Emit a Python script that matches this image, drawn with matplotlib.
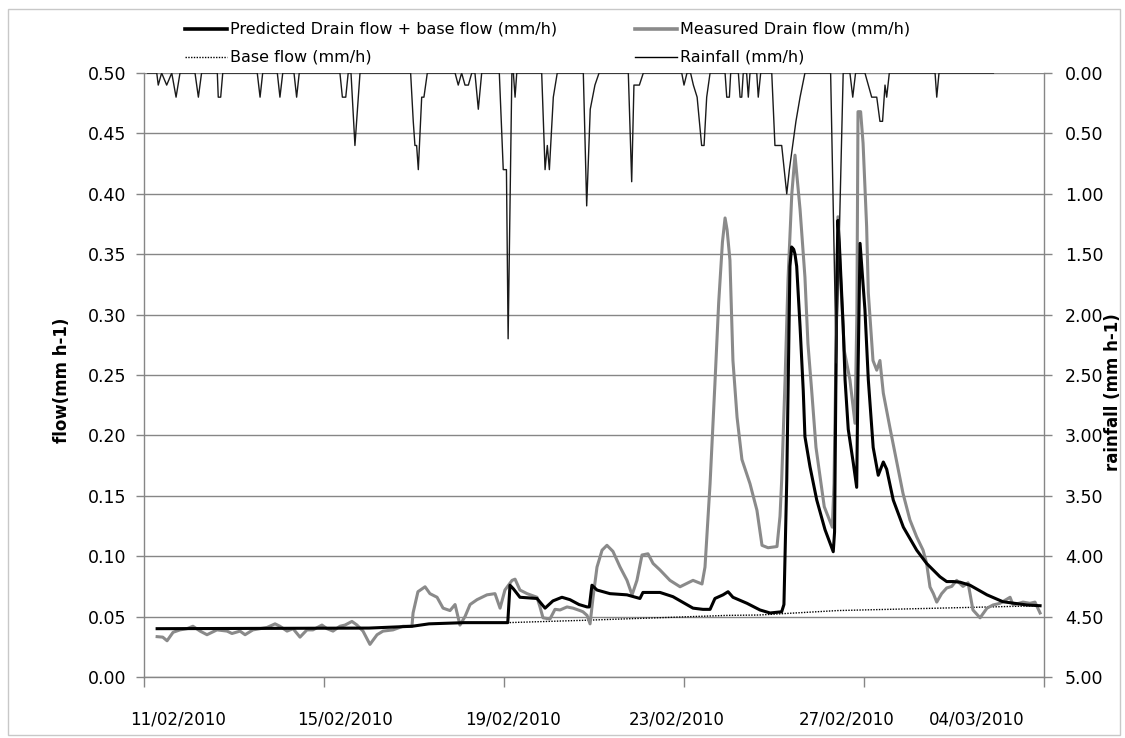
import numpy as np
import matplotlib
matplotlib.use("Agg")
import matplotlib.pyplot as plt
from matplotlib.lines import Line2D
from matplotlib.patches import Rectangle

# Time axis: hours since 11/02/2010 00:00
pred_t = [7, 120, 143, 152, 171, 194, 195.2, 197, 200.5, 209.6, 213.9, 218.1, 222.9, 227.2,
          232, 236.3, 237.5, 238.9, 241.6, 248.5, 257.6, 264.5, 266.1, 275.2, 282.1, 292.8,
          298.1, 301.9, 304.5, 308.8, 311.5, 314.1, 321.6, 328.5, 333.9, 340.1, 341.3, 342.8,
          344.5, 345.4, 346.5, 347.2, 348.1, 349.9, 351.6, 352.5, 355.2, 358.8, 363.2, 367.6,
          368.3, 369.5, 370.1, 370.8, 372.9, 373.9, 375.6, 378.3, 380.1, 380.8, 381.9, 384.5,
          386.3, 388.9, 391.6, 394.3, 396.1, 399.6, 405, 412.1, 417.4, 424.5, 428.1, 431.6,
          435.2, 440.5, 449.6, 458.1, 470.9, 477.9]
pred_v = [0.040, 0.0405, 0.042, 0.044, 0.045, 0.045, 0.076, 0.073, 0.066, 0.065, 0.057, 0.063,
          0.066, 0.064, 0.060, 0.058, 0.058, 0.076, 0.072, 0.069, 0.068, 0.065, 0.070, 0.070,
          0.0665, 0.057, 0.056, 0.056, 0.065, 0.068, 0.0706, 0.066, 0.061, 0.0555, 0.053, 0.054,
          0.060, 0.163, 0.340, 0.356, 0.354, 0.350, 0.340, 0.290, 0.237, 0.199, 0.174, 0.1465,
          0.122, 0.1037, 0.120, 0.330, 0.378, 0.360, 0.290, 0.246, 0.205, 0.177, 0.157, 0.250,
          0.359, 0.304, 0.246, 0.190, 0.167, 0.178, 0.172, 0.1465, 0.124, 0.105, 0.094, 0.083,
          0.079, 0.079, 0.0785, 0.076, 0.068, 0.0623, 0.0596, 0.059]

meas_t = [7, 10, 12.3, 15.5, 19.2, 22.9, 26.1, 29.9, 33.6, 38.9, 44.3, 46.9, 51.2, 53.9, 58.1,
          65.6, 69.9, 72.5, 76.3, 79.5, 83.2, 86.9, 90.1, 94.9, 97.6, 100.8, 104.5, 107.2, 110.9,
          113.6, 116.8, 120.5, 124.3, 127.5, 132.8, 138.1, 142.9, 143.5, 146.1, 149.9, 152.5,
          156.3, 159.5, 163.2, 165.9, 168.5, 171.2, 173.9, 177.6, 182.9, 187.2, 189.9, 192.5,
          196.3, 197.9, 200.5, 204.3, 209.6, 211.2, 212.8, 216.5, 219.2, 221.9, 225.6, 228.8,
          232.5, 234.1, 236.3, 237.9, 239.5, 241.6, 244.3, 246.9, 250.1, 253.9, 257.6, 260.3,
          262.9, 265.6, 268.8, 271.5, 275.2, 280.5, 285.9, 292.8, 297.6, 299.2, 301.9, 304.5,
          306.5, 308.5, 309.9, 311, 312.5, 314.1, 316.3, 318.9, 323.2, 326.9, 329.6, 332.8,
          337.6, 339.2, 340.1, 341.9, 343.5, 345.5, 347.2, 349.9, 352.5, 354.1, 356.1, 358.4,
          362.8, 367.1, 368, 369.6, 370.1, 371.5, 373.5, 376.5, 379.2, 380.2, 380.8, 382.2,
          383.5, 385.4, 386.3, 388.8, 390.8, 392.5, 394.3, 398, 401.6, 404.8, 408.5, 412.1,
          415.5, 417.4, 419.2, 421, 422.8, 425.4, 428.1, 430.8, 433.4, 436.8, 439.5, 442.1,
          445.9, 449.6, 452.8, 456.5, 461.9, 463.5, 468.8, 472.5, 475.2, 477.9]
meas_v = [0.0334, 0.033, 0.030, 0.037, 0.039, 0.040, 0.042, 0.038, 0.035, 0.039, 0.038, 0.036,
          0.038, 0.035, 0.039, 0.041, 0.044, 0.042, 0.038, 0.040, 0.033, 0.039, 0.039, 0.043,
          0.040, 0.038, 0.042, 0.043, 0.046, 0.043, 0.038, 0.027, 0.035, 0.038, 0.039, 0.042,
          0.042, 0.053, 0.0706, 0.0747, 0.069, 0.066, 0.057, 0.055, 0.060, 0.043, 0.050, 0.060,
          0.064, 0.068, 0.069, 0.057, 0.072, 0.080, 0.081, 0.072, 0.069, 0.066, 0.058, 0.049,
          0.048, 0.056, 0.0555, 0.058, 0.057, 0.055, 0.054, 0.051, 0.044, 0.066, 0.091, 0.105,
          0.109, 0.104, 0.091, 0.080, 0.068, 0.080, 0.101, 0.102, 0.094, 0.0886, 0.080, 0.0747,
          0.080, 0.077, 0.091, 0.160, 0.243, 0.310, 0.360, 0.380, 0.370, 0.345, 0.262, 0.215,
          0.180, 0.160, 0.138, 0.109, 0.107, 0.108, 0.133, 0.163, 0.246, 0.330, 0.400, 0.432,
          0.387, 0.331, 0.276, 0.237, 0.190, 0.141, 0.124, 0.160, 0.320, 0.381, 0.330, 0.270,
          0.246, 0.210, 0.300, 0.468, 0.468, 0.442, 0.373, 0.318, 0.262, 0.254, 0.262, 0.235,
          0.205, 0.177, 0.152, 0.130, 0.116, 0.105, 0.094, 0.0745, 0.069, 0.062, 0.069, 0.0737,
          0.075, 0.080, 0.075, 0.078, 0.0555, 0.049, 0.057, 0.0596, 0.061, 0.066, 0.0596, 0.062,
          0.061, 0.062, 0.053]

base_t = [7, 120, 143, 152, 171, 194, 236, 311, 328, 370, 424, 478]
base_v = [0.040, 0.0405, 0.042, 0.044, 0.045, 0.045, 0.047, 0.051, 0.0513, 0.055, 0.057, 0.059]

rain_t = [2, 6.8, 7.6, 9.4, 12.1, 14.8, 17.1, 19.2, 27.2, 29, 30.7, 39.1, 39.6, 40.9, 42,
          60.4, 61.9, 63.3, 71.1, 72.5, 74, 80, 81.4, 82.8, 104.5, 105.8, 107.6, 108.9, 110.4,
          112.5, 115.2, 142.2, 143.6, 144.5, 145.4, 146.3, 148.1, 149.3, 151.1, 165.9, 167.6,
          169.4, 171.2, 173, 174.8, 176.5, 178.3, 180.1, 189.5, 191.6, 193.3, 194.2, 196.2,
          197, 197.9, 198.8, 212.1, 213.9, 215.1, 216.2, 218.3, 220.4, 234.3, 236.1, 238,
          240.5, 242.7, 258.3, 260.1, 261.3, 264.2, 266.3, 286.8, 288, 289.6, 291.5, 293, 295,
          297.4, 298.7, 300.1, 301.9, 309.9, 310.8, 312.2, 312.9, 317, 317.9, 318.8, 319.6,
          321.4, 322.3, 323.2, 326.8, 327.6, 328.9, 334.8, 336.5, 340.1, 342.8, 344.2, 347.7,
          349.9, 352.5, 366.2, 369.2, 372.9, 376.5, 378, 379.5, 384.5, 388.1, 390.8, 392.5,
          393.9, 395.2, 396.1, 397.5, 421.9, 422.8, 424, 453]
rain_v = [0, 0, 0.1, 0, 0.1, 0, 0.2, 0, 0, 0.2, 0, 0, 0.2, 0.2, 0,
          0, 0.2, 0, 0, 0.2, 0, 0, 0.2, 0, 0, 0.2, 0.2, 0, 0,
          0.6, 0, 0, 0.4, 0.6, 0.6, 0.8, 0.2, 0.2, 0, 0, 0.1,
          0, 0.1, 0.1, 0, 0, 0.3, 0, 0, 0.8, 0.8, 2.2, 0,
          0, 0.2, 0, 0, 0.8, 0.6, 0.8, 0.2, 0, 0, 1.1, 0.3,
          0.1, 0, 0, 0.9, 0.1, 0.1, 0, 0, 0.1, 0, 0, 0.1, 0.2,
          0.6, 0.6, 0.2, 0, 0, 0.2, 0.2, 0, 0, 0.2, 0.2, 0,
          0, 0.2, 0, 0, 0.2, 0, 0, 0.6, 0.6, 1.0, 0.8, 0.4,
          0.2, 0, 0, 2.4, 0, 0, 0.2, 0, 0, 0.2, 0.2, 0.4,
          0.4, 0.1, 0.2, 0, 0, 0.2, 0, 0]

tick_marks = [0, 96, 192, 288, 384, 480]
date_labels = ["11/02/2010", "15/02/2010", "19/02/2010", "23/02/2010", "27/02/2010", "04/03/2010"]
date_label_pos = [18, 107, 197, 284, 375, 444]
flow_ticks = [0.0, 0.05, 0.10, 0.15, 0.20, 0.25, 0.30, 0.35, 0.40, 0.45, 0.50]
rain_ticks = [0.0, 0.5, 1.0, 1.5, 2.0, 2.5, 3.0, 3.5, 4.0, 4.5, 5.0]

W, H = 1125, 738
AXC = "#868686"
FONT = "DejaVu Sans"
BASE_STYLE = dict(color="black", lw=1.0, ls=(0, (1.0, 1.0)))

fig = plt.figure(figsize=(W / 100, H / 100), dpi=100)
fig.patch.set_facecolor("white")
fig.patches.append(Rectangle((8 / W, 3 / H), 1112 / W, 726 / H, transform=fig.transFigure,
                             fill=False, edgecolor="#c8c8c8", linewidth=1.0))

ax = fig.add_axes([144 / W, 1 - 677 / H, 900 / W, 604 / H])
ax.set_xlim(0, 480)
ax.set_ylim(0, 0.5)

ax.plot(base_t, base_v, zorder=3, **BASE_STYLE)
ax.plot(meas_t, meas_v, color="#8a8a8a", lw=2.2, solid_joinstyle="round", zorder=4)
ax.plot(pred_t, pred_v, color="black", lw=2.2, solid_joinstyle="round", zorder=5)

ax.set_yticks(flow_ticks)
ax.set_yticklabels([f"{v:.2f}" for v in flow_ticks], fontsize=12.5, family=FONT)
ax.grid(axis="y", color=AXC, lw=1.0)
ax.set_axisbelow(True)
ax.tick_params(axis="y", direction="out", length=6, width=1, color=AXC, pad=7)

ax.set_xticks(date_label_pos)
ax.set_xticklabels(date_labels, fontsize=12, family=FONT)
ax.set_xticks(tick_marks, minor=True)
ax.tick_params(axis="x", which="major", length=0, pad=24)
ax.tick_params(axis="x", which="minor", direction="out", length=7, width=1, color=AXC)

for s in ["top", "right"]:
    ax.spines[s].set_visible(False)
for s in ["left", "bottom"]:
    ax.spines[s].set_color(AXC)
    ax.spines[s].set_linewidth(1.0)

ax2 = ax.twinx()
ax2.set_ylim(5, 0)
ax2.plot(rain_t, rain_v, color="#1a1a1a", lw=1.0, zorder=6)
ax2.set_yticks(rain_ticks)
ax2.set_yticklabels([f"{v:.2f}" for v in rain_ticks], fontsize=12.5, family=FONT)
ax2.tick_params(axis="y", direction="out", length=6, width=1, color=AXC, pad=9)
for s in ["top", "left", "bottom"]:
    ax2.spines[s].set_visible(False)
ax2.spines["right"].set_color(AXC)
ax2.spines["right"].set_linewidth(1.0)

fig.text(62 / W, 1 - 380 / H, "flow(mm h-1)", rotation=90, ha="center", va="center",
         fontsize=12, fontweight="bold", family=FONT)
fig.text(1113 / W, 1 - 392 / H, "rainfall (mm h-1)", rotation=90, ha="center", va="center",
         fontsize=12, fontweight="bold", family=FONT)

# legend, two columns of handle + label
legend_items = [
    ("Predicted Drain flow + base flow (mm/h)", dict(color="black", lw=2.6), 185, 29),
    ("Measured Drain flow (mm/h)", dict(color="#8a8a8a", lw=2.6), 635, 29),
    ("Base flow (mm/h)", BASE_STYLE, 185, 57),
    ("Rainfall (mm/h)", dict(color="black", lw=1.0), 635, 57),
]
for text, style, x0, y0 in legend_items:
    yf = 1 - y0 / H
    fig.add_artist(Line2D([x0 / W, (x0 + 42) / W], [yf, yf], transform=fig.transFigure, **style))
    fig.text((x0 + 45) / W, yf, text, ha="left", va="center", fontsize=11.5, family=FONT)

fig.savefig("out.png", dpi=100)
